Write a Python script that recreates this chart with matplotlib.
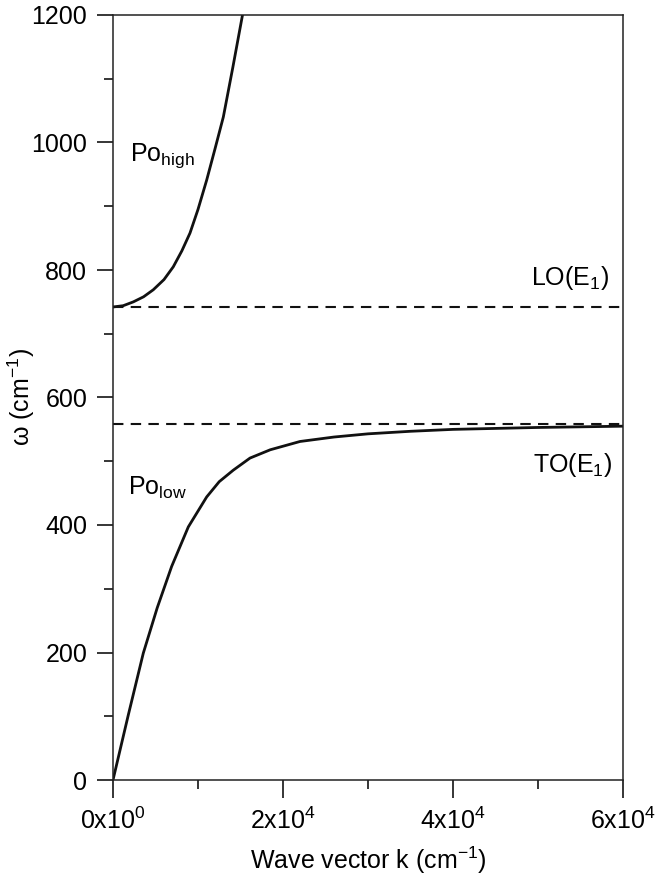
import matplotlib
matplotlib.use("Agg")
import matplotlib.pyplot as plt
from matplotlib.ticker import MultipleLocator

plt.rcParams['font.family'] = ['Liberation Sans', 'DejaVu Sans']
plt.rcParams['mathtext.fontset'] = 'custom'
plt.rcParams['mathtext.rm'] = 'Liberation Sans'
plt.rcParams['mathtext.it'] = 'Liberation Sans'
plt.rcParams['mathtext.default'] = 'regular'

# Data
k_low = [0, 1800, 3565, 5200, 6900, 8860, 11020, 12500, 14150, 16120, 18500, 22000, 26000, 30000, 35000, 40000, 50000, 60000]
w_low = [0, 102, 199, 270, 335, 397, 444, 468, 486, 505, 518, 531, 538, 543, 547, 550, 553, 555]
k_high = [0, 1200, 2390, 3600, 4740, 6000, 7090, 8100, 9060, 10000, 11020, 12000, 12980, 14100, 15250]
w_high = [742, 744, 750, 758, 769, 785, 805, 830, 858, 895, 941, 990, 1040, 1118, 1201]
w_LO = 742
w_TO = 558
xticks_major = [0, 20000, 40000, 60000]
xtick_labels = [r'0x10$^{0}$', r'2x10$^{4}$', r'4x10$^{4}$', r'6x10$^{4}$']

fig = plt.figure(figsize=(6.57, 8.86), dpi=100)
ax = fig.add_axes([113/657, 1-780/886, (623-113)/657, (780-15)/886])

ax.plot(k_low, w_low, color='#111111', lw=2.0, solid_joinstyle='round')
ax.plot(k_high, w_high, color='#111111', lw=2.0, solid_joinstyle='round')
ax.axhline(w_LO, color='#111111', lw=1.5, dashes=(5, 3.5))
ax.axhline(w_TO, color='#111111', lw=1.5, dashes=(5, 3.5))

ax.set_xlim(0, 60000)
ax.set_ylim(0, 1200)

ax.set_xticks(xticks_major)
ax.set_xticklabels(xtick_labels)
ax.xaxis.set_minor_locator(MultipleLocator(10000))
ax.yaxis.set_major_locator(MultipleLocator(200))
ax.yaxis.set_minor_locator(MultipleLocator(100))

ax.tick_params(axis='x', which='major', direction='out', length=13, width=1.1, labelsize=18, pad=7)
ax.tick_params(axis='x', which='minor', direction='out', length=6.5, width=1.1)
ax.tick_params(axis='y', which='major', direction='out', length=11.5, width=1.1, labelsize=18, pad=7)
ax.tick_params(axis='y', which='minor', direction='out', length=6.5, width=1.1)
for s in ax.spines.values():
    s.set_linewidth(1.1)
    s.set_color('#222222')

ax.set_xlabel('Wave vector k (cm$^{-1}$)', fontsize=18)
ax.xaxis.set_label_coords(0.5, -0.085)
ax.set_ylabel('ω (cm$^{-1}$)', fontsize=18)
ax.yaxis.set_label_coords(-0.15, 0.5)

ax.text(2000, 972, r'Po$_{\mathregular{high}}$', fontsize=18, va='baseline', ha='left')
ax.text(1765, 447, r'Po$_{\mathregular{low}}$', fontsize=18, va='baseline', ha='left')
ax.text(58400, 776, r'LO(E$_{\mathregular{1}}$)', fontsize=18, va='baseline', ha='right')
ax.text(58700, 483, r'TO(E$_{\mathregular{1}}$)', fontsize=18, va='baseline', ha='right')

fig.savefig('out.png', dpi=100)
